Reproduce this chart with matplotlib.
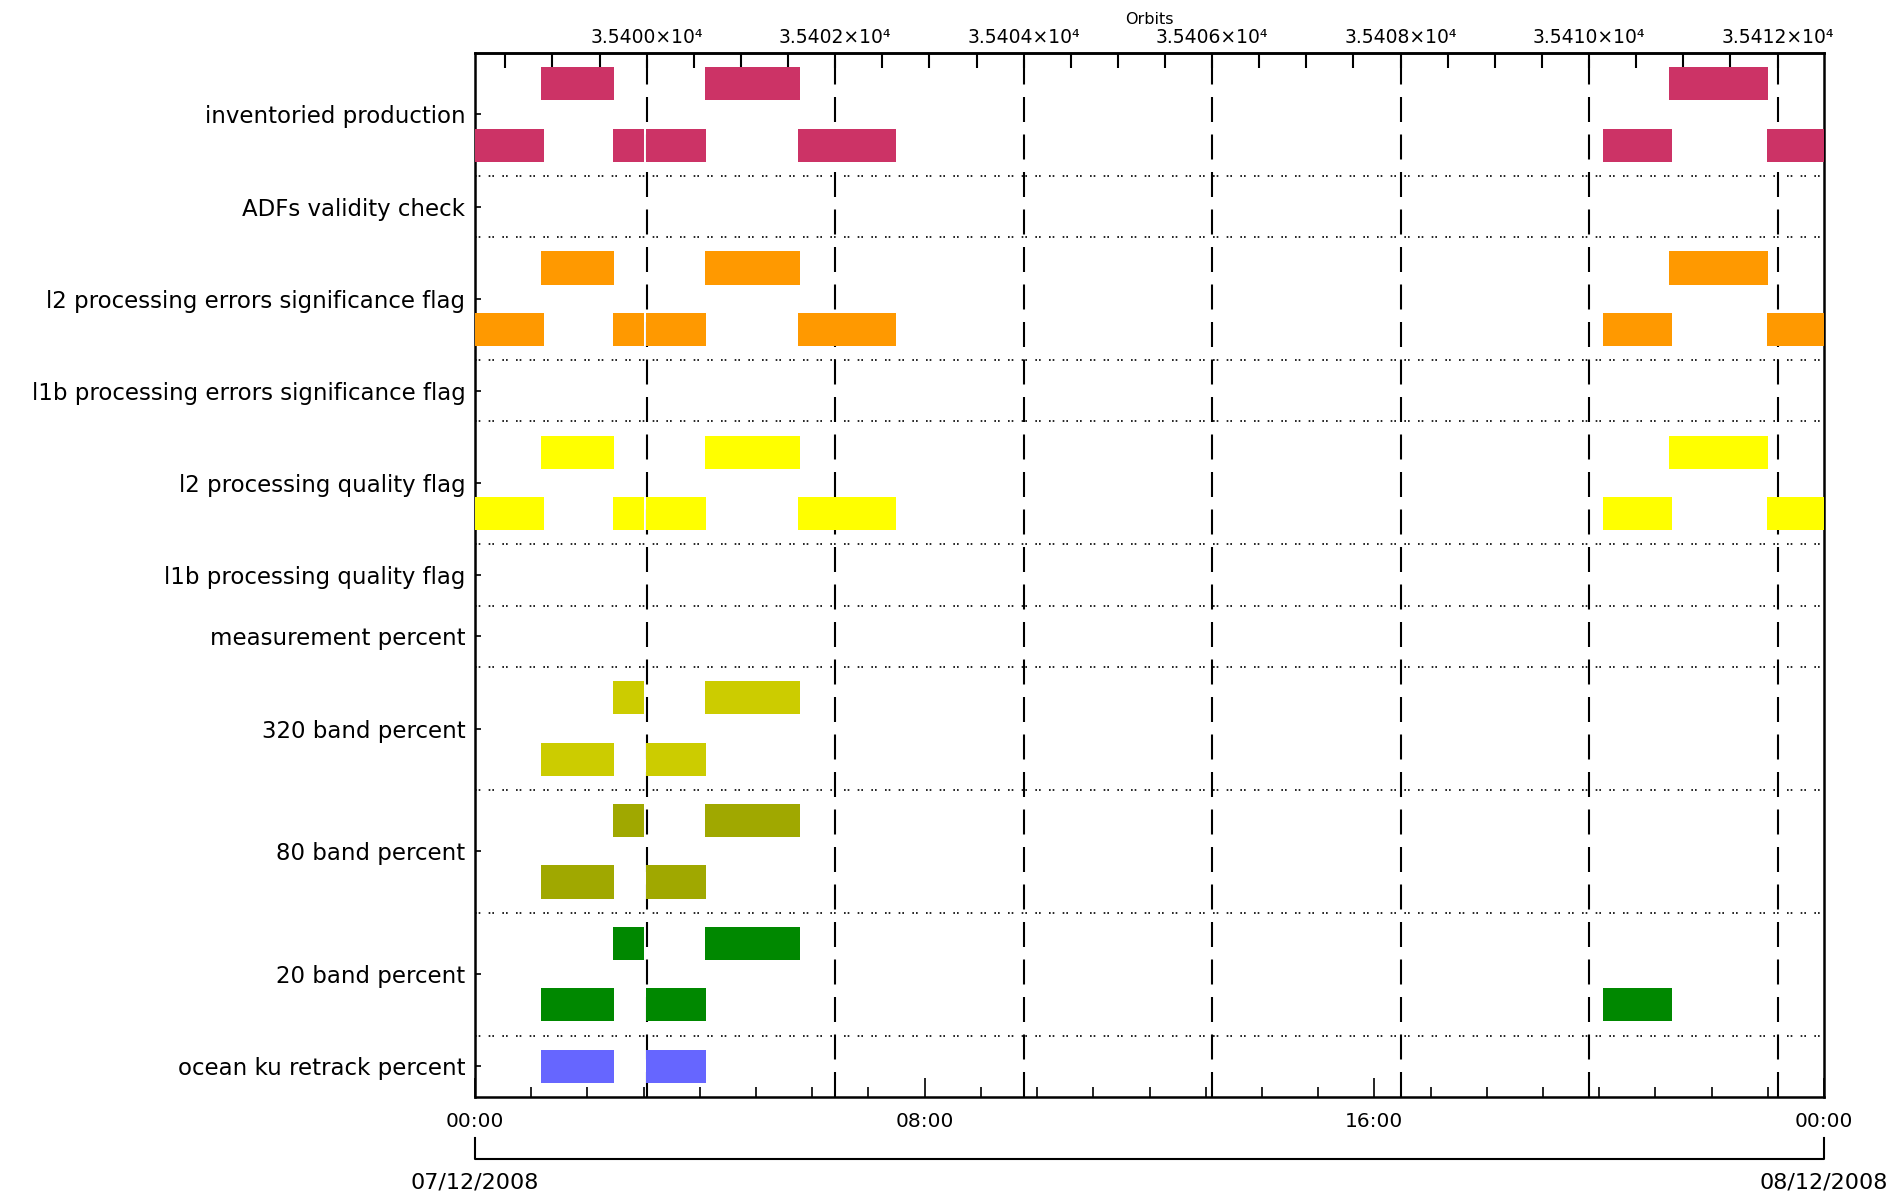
import matplotlib
matplotlib.use("Agg")
import matplotlib.pyplot as plt
from matplotlib.ticker import MultipleLocator, FixedLocator, FuncFormatter
import matplotlib.transforms as mtransforms

# rows of the chart, top to bottom, and how many bar lanes each one has
row_labels = [
    "inventoried production",
    "ADFs validity check",
    "l2 processing errors significance flag",
    "l1b processing errors significance flag",
    "l2 processing quality flag",
    "l1b processing quality flag",
    "measurement percent",
    "320 band percent",
    "80 band percent",
    "20 band percent",
    "ocean ku retrack percent",
]
row_lanes = [2, 1, 2, 1, 2, 1, 1, 2, 2, 2, 1]
row_colors = ["#cc3366", None, "#ff9900", None, "#ffff00", None, None,
              "#cccc00", "#a0a800", "#008800", "#6666ff"]

# bars, hours after 07/12/2008 00:00 (start, end)
flag_upper = [(1.17, 2.47), (4.09, 5.78), (21.24, 23.01)]
flag_lower = [(0.0, 1.23), (2.45, 3.01), (3.04, 4.11), (5.75, 7.49),
              (20.06, 21.30), (22.98, 24.0)]
band_upper = [(2.45, 3.01), (4.09, 5.78)]
band_lower = [(1.17, 2.47), (3.05, 4.11)]
band20_lower = [(1.17, 2.47), (3.05, 4.11), (20.06, 21.30)]
ocean_bars = [(1.17, 2.47), (3.05, 4.11)]

# bars per row: list of lanes (top lane first)
row_bars = [
    [flag_upper, flag_lower],
    [[]],
    [flag_upper, flag_lower],
    [[]],
    [flag_upper, flag_lower],
    [[]],
    [[]],
    [band_upper, band_lower],
    [band_upper, band_lower],
    [band_upper, band20_lower],
    [ocean_bars],
]

# orbit scale
orbit_ref = 35400
orbit_ref_hour = 3.055
orbit_period_h = 1.6765
orbit_major = list(range(35400, 35413, 2))

hour_ticks = [0, 8, 16, 24]
hour_labels = ["00:00", "08:00", "16:00", "00:00"]
date_labels = ["07/12/2008", "08/12/2008"]


def h2o(h):
    return orbit_ref + (h - orbit_ref_hour) / orbit_period_h


def o2h(o):
    return orbit_ref_hour + (o - orbit_ref) * orbit_period_h


plt.rcParams['font.family'] = ['DejaVu Sans']

W, H = 1896, 1197
fig = plt.figure(figsize=(W / 100, H / 100), dpi=100)
ax = fig.add_axes([475 / W, (H - 1097) / H, (1824 - 475) / W, (1097 - 53) / H])

n_units = sum(row_lanes)
ax.set_xlim(0, 24)
ax.set_ylim(n_units, 0)

bar_h = 0.54
y0 = 0
centers = []
for lanes, color, bars in zip(row_lanes, row_colors, row_bars):
    centers.append(y0 + lanes / 2)
    for k, lane in enumerate(bars):
        if not lane:
            continue
        yc = y0 + k + 0.5
        ax.broken_barh([(s, e - s) for s, e in lane], (yc - bar_h / 2, bar_h),
                       facecolors=color, edgecolors="none", zorder=3)
    y0 += lanes
    if y0 < n_units:
        ax.axhline(y0, color="black", lw=1.2, ls=(0, (1, 1.2, 1, 5)), zorder=2)

# dashed orbit lines
for o in orbit_major:
    ax.axvline(o2h(o), color="black", lw=1.5, ls=(0, (12, 6)), zorder=2)

ax.set_yticks(centers)
ax.set_yticklabels(row_labels, fontsize=16.5)
ax.tick_params(axis="y", direction="in", length=4, width=1.2, pad=7, right=False)

ax.xaxis.set_major_locator(FixedLocator(hour_ticks))
ax.xaxis.set_minor_locator(MultipleLocator(1))
ax.set_xticklabels(hour_labels, fontsize=14.5)
ax.tick_params(axis="x", which="major", direction="in", length=14, width=1.2, pad=11)
ax.tick_params(axis="x", which="minor", direction="in", length=7, width=1.2)

for sp in ax.spines.values():
    sp.set_linewidth(1.8)

top = ax.secondary_xaxis("top", functions=(h2o, o2h))
top.xaxis.set_major_locator(FixedLocator(orbit_major))
top.xaxis.set_minor_locator(MultipleLocator(0.5))
top.xaxis.set_major_formatter(FuncFormatter(lambda v, p: f"{v / 1e4:.4f}×10⁴"))
top.tick_params(which="major", direction="in", length=11, width=1.5, labelsize=13.5, pad=4)
top.tick_params(which="minor", direction="in", length=11, width=1.5)
top.spines["top"].set_linewidth(1.8)

fig.text(0.5 * (475 + 1824) / W, (H - 19) / H, "Orbits", ha="center", va="center", fontsize=11.5)

# date axis under the time axis
tr = mtransforms.blended_transform_factory(ax.transData, fig.transFigure)
yl = (H - 1159) / H
yt = (H - 1138) / H
ax.plot([0, 0, 24, 24], [yt, yl, yl, yt], color="black", lw=1.5,
        transform=tr, clip_on=False)
ax.text(0, (H - 1183) / H, date_labels[0], transform=tr, ha="center", va="center", fontsize=16)
ax.text(24, (H - 1183) / H, date_labels[1], transform=tr, ha="center", va="center", fontsize=16)

fig.savefig("out.png", dpi=100)
